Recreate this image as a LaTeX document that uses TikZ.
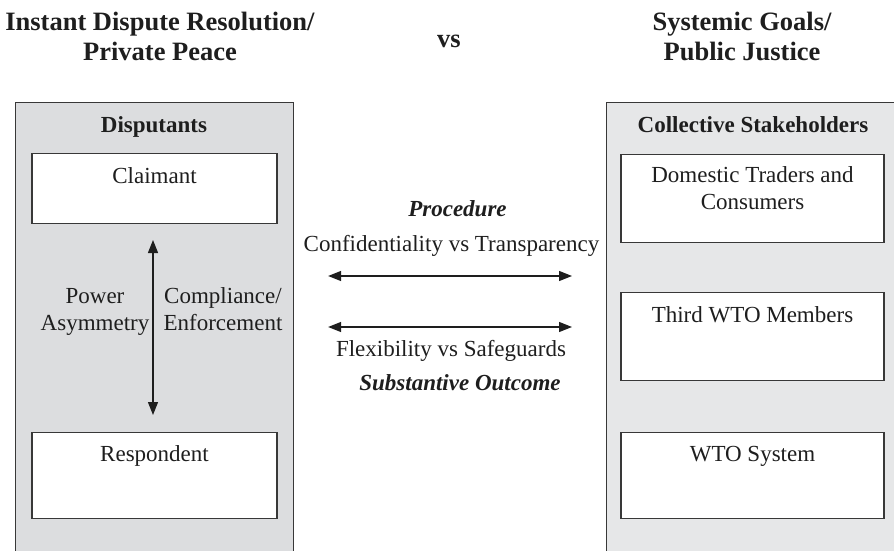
\documentclass[tikz,border=0pt]{standalone}
\usepackage{fontspec}
\setmainfont{Liberation Serif}
\usetikzlibrary{arrows.meta}
\definecolor{leftgray}{HTML}{DCDDDF}
\definecolor{rightgray}{HTML}{E6E7E8}
\definecolor{edgegray}{HTML}{383838}
\definecolor{ink}{HTML}{1E1E1E}
\begin{document}
\begin{tikzpicture}[x=1pt,y=-1pt,
  panel/.style={draw=edgegray, line width=1.1pt, rectangle, inner sep=0pt},
  inbox/.style={draw=edgegray, fill=white, line width=1.1pt, rectangle, inner sep=0pt, minimum width=245pt},
  txt/.style={text=ink, font=\fontsize{23}{26.5}\selectfont, align=center, anchor=base, inner sep=0pt},
  btxt/.style={txt, font=\fontsize{23}{26.5}\selectfont\bfseries},
  ttl/.style={txt, font=\fontsize{26.5}{31}\selectfont\bfseries},
  dbl/.style={ink, line width=1.2pt, {Triangle[length=13pt,width=10pt]}-{Triangle[length=13pt,width=10pt]}}
]
\useasboundingbox (0,0) rectangle (894,551);
\clip (0,0) rectangle (894,551);
% panels
\node[panel, fill=leftgray, minimum width=278pt, minimum height=520pt, anchor=north west] (lp) at (15,102) {};
\node[panel, fill=rightgray, minimum width=320pt, minimum height=520pt, anchor=north west] (rp) at (606,102) {};
% titles
\node[ttl] (t1) at (160,61) {Instant Dispute Resolution/\\Private Peace};
\node[ttl] (vs) at (449,48) {vs};
\node[ttl] (t2) at (742,61) {Systemic Goals/\\Public Justice};
% panel headings
\node[btxt] (hd1) at (154,132) {Disputants};
\node[btxt] (hd2) at (753,132) {Collective Stakeholders};
% left boxes
\node[inbox, minimum height=70pt, anchor=north] (claim) at (154.5,153) {};
\node[txt] (claimt) at (154.5,183) {Claimant};
\node[inbox, minimum height=86pt, anchor=north] (resp) at (154.5,432) {};
\node[txt] (respt) at (154.5,461) {Respondent};
% right boxes
\node[inbox, minimum width=263pt, minimum height=88pt, anchor=north] (dom) at (752.5,154) {};
\node[txt] (domt) at (752.5,209) {Domestic Traders and\\Consumers};
\node[inbox, minimum width=263pt, minimum height=88pt, anchor=north] (third) at (752.5,292) {};
\node[txt] (thirdt) at (752.5,322) {Third WTO Members};
\node[inbox, minimum width=263pt, minimum height=86pt, anchor=north] (wto) at (752.5,432) {};
\node[txt] (wtot) at (752.5,461) {WTO System};
% vertical arrow
\coordinate (va) at (153,223);
\coordinate (vb) at (153,432);
\draw[dbl, shorten <=17pt, shorten >=17pt] (va) -- (vb);
\node[txt] (pow) at (95,330) {Power\\Asymmetry};
\node[txt] (comp) at (223,330) {Compliance/\\Enforcement};
% middle
\node[txt, font=\fontsize{23}{26.5}\selectfont\bfseries\itshape] (proc) at (457.5,216) {Procedure};
\node[txt] (conf) at (451.5,251) {Confidentiality vs Transparency};
\draw[dbl, shorten <=34pt, shorten >=34pt] (lp.east |- 0,276) -- (rp.west |- 0,276);
\draw[dbl, shorten <=34pt, shorten >=34pt] (lp.east |- 0,327) -- (rp.west |- 0,327);
\node[txt] (flex) at (451,356) {Flexibility vs Safeguards};
\node[txt, font=\fontsize{23}{26.5}\selectfont\bfseries\itshape] (subst) at (460,390) {Substantive Outcome};
\end{tikzpicture}
\end{document}
